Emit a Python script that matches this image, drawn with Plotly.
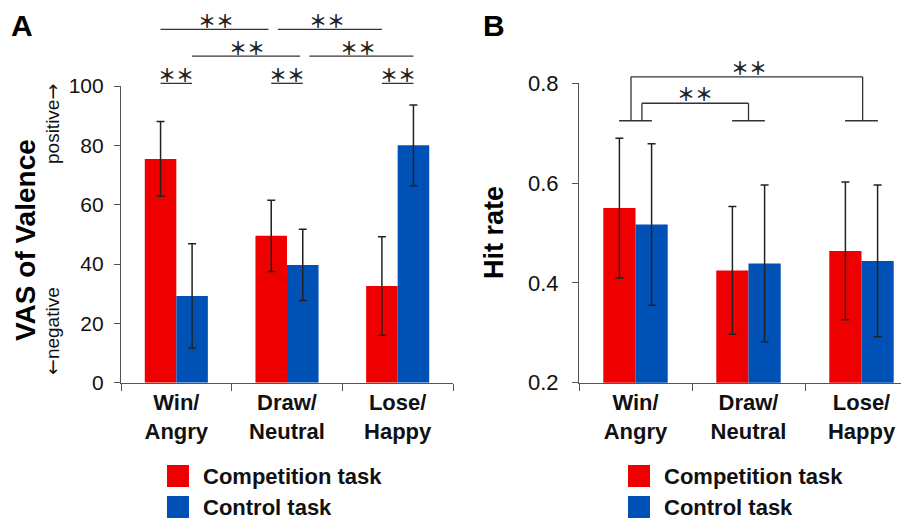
import plotly.graph_objects as go

W, H = 909, 519
OFF = 8  # page body margin of the browser

# ---------------- data ----------------
categories = ["Win/<br>Angry", "Draw/<br>Neutral", "Lose/<br>Happy"]
series_names = ["Competition task", "Control task"]

vas_competition = [75.4, 49.5, 32.6]
vas_competition_err = [12.6, 12.0, 16.6]
vas_control = [29.2, 39.7, 80.0]
vas_control_err = [17.6, 12.0, 13.6]

hit_competition = [0.550, 0.425, 0.464]
hit_competition_err = [0.140, 0.128, 0.138]
hit_control = [0.517, 0.439, 0.444]
hit_control_err = [0.162, 0.157, 0.152]

vas_ticks = [0, 20, 40, 60, 80, 100]
hit_ticks = [0.2, 0.4, 0.6, 0.8]

# significance brackets (heights in data units)
vas_pair_level = 100.9      # competition vs control within category
vas_control_level = 110.1   # control task across categories
vas_comp_level = 119.1      # competition task across categories
hit_t_level = 0.725
hit_outer_level = 0.813
hit_inner_level = 0.760

# ---------------- style ----------------
RED = "#EE0000"
BLUE = "#0051B5"
FONT = "Liberation Sans, Arial, sans-serif"
AXC = "#555555"
TXT = "#111111"
BARGAP = 0.43
HALF = (1 - BARGAP) / 4  # offset of each bar centre from category centre

def px_x(p):
    return (p - OFF) / W

def px_y(p):
    return 1 - (p - OFF) / H

rangeA_x = [-0.5, 2.5]
rangeA_y = [0, 100]
B_left = 579
B_right = OFF + W
rangeB_x = [-0.5, -0.5 + (B_right - B_left) / 113]
rangeB_y = [0.2, 0.8]

def dom(r, v):
    return (v - r[0]) / (r[1] - r[0])

fig = go.Figure()

err_style = dict(type="data", visible=True, thickness=1.5, width=4, color="#222222")

for name, vals, errs, col in [
    (series_names[0], vas_competition, vas_competition_err, RED),
    (series_names[1], vas_control, vas_control_err, BLUE),
]:
    fig.add_trace(go.Bar(x=categories, y=vals, name=name, marker=dict(color=col, line=dict(width=0)),
                         error_y=dict(array=errs, **err_style), xaxis="x", yaxis="y", showlegend=False))

for name, vals, errs, col in [
    (series_names[0], hit_competition, hit_competition_err, RED),
    (series_names[1], hit_control, hit_control_err, BLUE),
]:
    fig.add_trace(go.Bar(x=categories, y=vals, name=name, marker=dict(color=col, line=dict(width=0)),
                         error_y=dict(array=errs, **err_style), xaxis="x2", yaxis="y2", showlegend=False))

xaxis_common = dict(type="category", showline=True, linecolor=AXC, linewidth=1.2, ticks="outside",
                    tickson="boundaries", ticklen=7, tickcolor=AXC, tickwidth=1.2,
                    tickfont=dict(family=FONT, size=22, color=TXT, weight="bold"),
                    showgrid=False, zeroline=False, fixedrange=True, automargin=False)
yaxis_common = dict(showline=True, linecolor=AXC, linewidth=1.2, ticks="outside", ticklen=6,
                    tickcolor=AXC, tickwidth=1.2, showgrid=False, zeroline=False, fixedrange=True,
                    automargin=False)

fig.update_layout(
    width=W, height=H, margin=dict(l=0, r=0, t=0, b=0, pad=0, autoexpand=False),
    paper_bgcolor="white", plot_bgcolor="white",
    barmode="group", bargap=BARGAP, bargroupgap=0,
    xaxis=dict(domain=[px_x(121), px_x(453)], range=rangeA_x, anchor="y", **xaxis_common),
    yaxis=dict(domain=[px_y(382.7), px_y(86)], range=rangeA_y, anchor="x", tickvals=vas_ticks,
               tickfont=dict(family=FONT, size=21, color=TXT), ticklabelstandoff=6, **yaxis_common),
    xaxis2=dict(domain=[px_x(B_left), 1.0], range=rangeB_x, anchor="y2", **xaxis_common),
    yaxis2=dict(domain=[px_y(382.7), px_y(83.3)], range=rangeB_y, anchor="x2", tickvals=hit_ticks,
                tickformat=".1f", tickfont=dict(family=FONT, size=22, color=TXT), ticklabelstandoff=9,
                **yaxis_common),
)

shapes = []
annotations = []
LINE = dict(color="#333333", width=1.3)
STAR_FONT = dict(family="Noto Sans CJK JP, DejaVu Sans", size=18, color="#222222", weight="bold")

def hline_dom(xr, yr, xaxis, yaxis, x0, x1, y):
    shapes.append(dict(type="line", xref=f"{xaxis} domain", yref=f"{yaxis} domain",
                       x0=dom(xr, x0), x1=dom(xr, x1), y0=dom(yr, y), y1=dom(yr, y), line=LINE))

def vline_dom(xr, yr, xaxis, yaxis, x, y0, y1):
    shapes.append(dict(type="line", xref=f"{xaxis} domain", yref=f"{yaxis} domain",
                       x0=dom(xr, x), x1=dom(xr, x), y0=dom(yr, y0), y1=dom(yr, y1), line=LINE))

def stars(xr, yr, xaxis, yaxis, x, y, shift=9):
    annotations.append(dict(text="＊＊", xref=f"{xaxis} domain", yref=f"{yaxis} domain",
                            x=dom(xr, x), y=dom(yr, y), xanchor="center", yanchor="middle",
                            yshift=shift, showarrow=False, font=STAR_FONT))

# ---- Panel A brackets ----
END_GAP, START_GAP = 0.025, 0.06
for i in range(3):
    hline_dom(rangeA_x, rangeA_y, "x", "y", i - HALF, i + HALF, vas_pair_level)
    stars(rangeA_x, rangeA_y, "x", "y", i, vas_pair_level)
for level, off in [(vas_comp_level, -HALF), (vas_control_level, HALF)]:
    hline_dom(rangeA_x, rangeA_y, "x", "y", 0 + off, 1 + off - END_GAP, level)
    hline_dom(rangeA_x, rangeA_y, "x", "y", 1 + off + START_GAP, 2 + off, level)
    stars(rangeA_x, rangeA_y, "x", "y", (0 + off + 1 + off) / 2, level)
    stars(rangeA_x, rangeA_y, "x", "y", (1 + off + 2 + off) / 2, level)

# ---- Panel B brackets ----
T_HALF = 0.145
for i in range(3):
    hline_dom(rangeB_x, rangeB_y, "x2", "y2", i - T_HALF, i + T_HALF, hit_t_level)
# outer bracket: Win/Angry vs Lose/Happy
ox0, ox1 = 0 - 0.04, 2 + 0.01
vline_dom(rangeB_x, rangeB_y, "x2", "y2", ox0, hit_t_level, hit_outer_level)
hline_dom(rangeB_x, rangeB_y, "x2", "y2", ox0, ox1, hit_outer_level)
vline_dom(rangeB_x, rangeB_y, "x2", "y2", ox1, hit_t_level, hit_outer_level)
stars(rangeB_x, rangeB_y, "x2", "y2", 1.0, hit_outer_level, 10)
# inner bracket: Win/Angry vs Draw/Neutral
ix0, ix1 = 0 + 0.057, 1.0
vline_dom(rangeB_x, rangeB_y, "x2", "y2", ix0, hit_t_level, hit_inner_level)
hline_dom(rangeB_x, rangeB_y, "x2", "y2", ix0, ix1, hit_inner_level)
vline_dom(rangeB_x, rangeB_y, "x2", "y2", ix1, hit_t_level, hit_inner_level)
stars(rangeB_x, rangeB_y, "x2", "y2", (ix0 + ix1) / 2, hit_inner_level, 10)

# ---- manual legends ----
for left in (167, 628):
    for row, (name, col) in enumerate(zip(series_names, [RED, BLUE])):
        top = 465 + row * 31
        shapes.append(dict(type="rect", xref="paper", yref="paper", x0=px_x(left), x1=px_x(left + 22),
                           y0=px_y(top + 22), y1=px_y(top), fillcolor=col, line=dict(width=0)))
        annotations.append(dict(text=f"<b>{name}</b>", xref="paper", yref="paper", x=px_x(left + 34),
                                y=px_y(top + 11), xanchor="left", yanchor="middle", showarrow=False,
                                font=dict(family=FONT, size=22, color=TXT)))

ARROW = '<span style="font-family:DejaVu Sans">{}</span>'

# ---- titles & panel labels ----
annotations += [
    dict(text="<b>A</b>", xref="paper", yref="paper", x=px_x(9), y=px_y(26), xanchor="left",
         yanchor="middle", showarrow=False, font=dict(family=FONT, size=30, color="#000")),
    dict(text="<b>B</b>", xref="paper", yref="paper", x=px_x(481), y=px_y(26), xanchor="left",
         yanchor="middle", showarrow=False, font=dict(family=FONT, size=30, color="#000")),
    dict(text="<b>VAS of Valence</b>", xref="paper", yref="paper", x=px_x(25), y=px_y(240),
         textangle=-90, xanchor="center", yanchor="middle", showarrow=False,
         font=dict(family=FONT, size=28, color="#000")),
    dict(text="positive" + ARROW.format("→"), xref="paper", yref="paper", x=px_x(52), y=px_y(124),
         textangle=-90, xanchor="center", yanchor="middle", showarrow=False,
         font=dict(family=FONT, size=19, color=TXT)),
    dict(text=ARROW.format("←") + "negative", xref="paper", yref="paper", x=px_x(52), y=px_y(331),
         textangle=-90, xanchor="center", yanchor="middle", showarrow=False,
         font=dict(family=FONT, size=19, color=TXT)),
    dict(text="<b>Hit rate</b>", xref="paper", yref="paper", x=px_x(494), y=px_y(233),
         textangle=-90, xanchor="center", yanchor="middle", showarrow=False,
         font=dict(family=FONT, size=27, color="#000")),
]

fig.update_layout(shapes=shapes, annotations=annotations)
fig.write_html("out.html")
